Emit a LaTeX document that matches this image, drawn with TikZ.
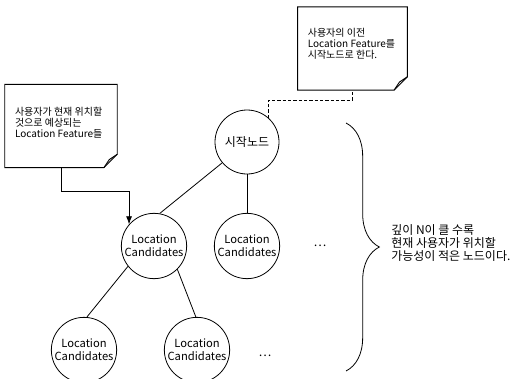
\documentclass[tikz,border=0pt]{standalone}
\usepackage{fontspec}
\setmainfont{Noto Sans CJK KR}
\usepackage{tikz}
\usetikzlibrary{positioning,arrows.meta,calc,decorations.pathreplacing}

\newcommand\memoframe[1]{%
  \draw[memoline] (#1.north west) -- (#1.north east)
    -- ([yshift=10pt]#1.south east) -- ([xshift=-10pt]#1.south east)
    -- (#1.south west) -- cycle;
  \draw[memoline] ([xshift=-10pt]#1.south east)
    -- ([shift={(-6pt,6pt)}]#1.south east) -- ([yshift=10pt]#1.south east);
}

\begin{document}
\begin{tikzpicture}[x=0.75pt,y=-0.75pt,
  every node/.style={inner sep=0pt},
  cand/.style ={circle,draw,line width=0.6pt,minimum size=49pt,align=center,
                font=\fontsize{8.4}{9.8}\selectfont},
  root/.style ={cand,minimum size=48pt,font=\fontsize{9}{10}\selectfont},
  memo/.style ={rectangle,minimum width=82pt,minimum height=62pt},
  memoline/.style={line width=0.7pt},
  memotext/.style={font=\fontsize{7.5}{8.2}\selectfont,align=left,anchor=west},
  dots/.style ={font=\fontsize{9}{10}\selectfont},
  arr/.style  ={-{Latex[length=6pt,width=4.5pt]},line width=0.6pt},
  link/.style ={line width=0.6pt},
  dlink/.style={line width=0.6pt,dash pattern=on 2.5pt off 1.5pt},
  depth/.style={font=\fontsize{9}{9.6}\selectfont,align=left,anchor=west},
]
\useasboundingbox (0,0) rectangle (531,378);

\node[root] (start) at (247,142) {시작노드};
\node[cand] (cand1) at (154,246) {Location\\Candidates};
\node[cand] (cand2) at (247,246) {Location\\Candidates};
\node[cand] (cand3) at (84,350)  {Location\\Candidates};
\node[cand] (cand4) at (197,350) {Location\\Candidates};
\node[dots] (more1) at (320,246) {\dots};
\node[dots] (more2) at (265,356) {\dots};

\node[memo] (memo1) at (352.5,48.5) {};
\node[memo,minimum width=84pt] (memo2) at (61,126) {};
\memoframe{memo1}
\memoframe{memo2}
\node[memotext] (memo1txt) at ([shift={(10,-5)}]memo1.west)
  {사용자의 이전\\Location Feature를\\시작노드로 한다.};
\node[memotext] (memo2txt) at ([shift={(10,-3)}]memo2.west)
  {사용자가 현재 위치할\\것으로 예상되는\\Location Feature들};

\draw[dlink] (start.48) -- ++(0,-18) -| (memo1.south);
\draw[arr] (memo2.south) -- ++(0,24) -| (cand1.139);

\draw[link] (start.220) -- (cand1.80);
\draw[link] (start.south) -- (cand2.north);
\draw[link] (cand1.218) -- (cand3.85);
\draw[link] (cand1.-45) -- (cand4.92);

\coordinate (bracetop) at (346,123);
\coordinate (bracebot) at (346,371);
\draw[decorate,decoration={brace,amplitude=25pt},line width=0.6pt]
  (bracetop) -- (bracebot);
\node[depth] (depthtxt) at (391,243)
  {깊이 N이 클 수록\\현재 사용자가 위치할\\가능성이 적은 노드이다.};
\end{tikzpicture}
\end{document}
